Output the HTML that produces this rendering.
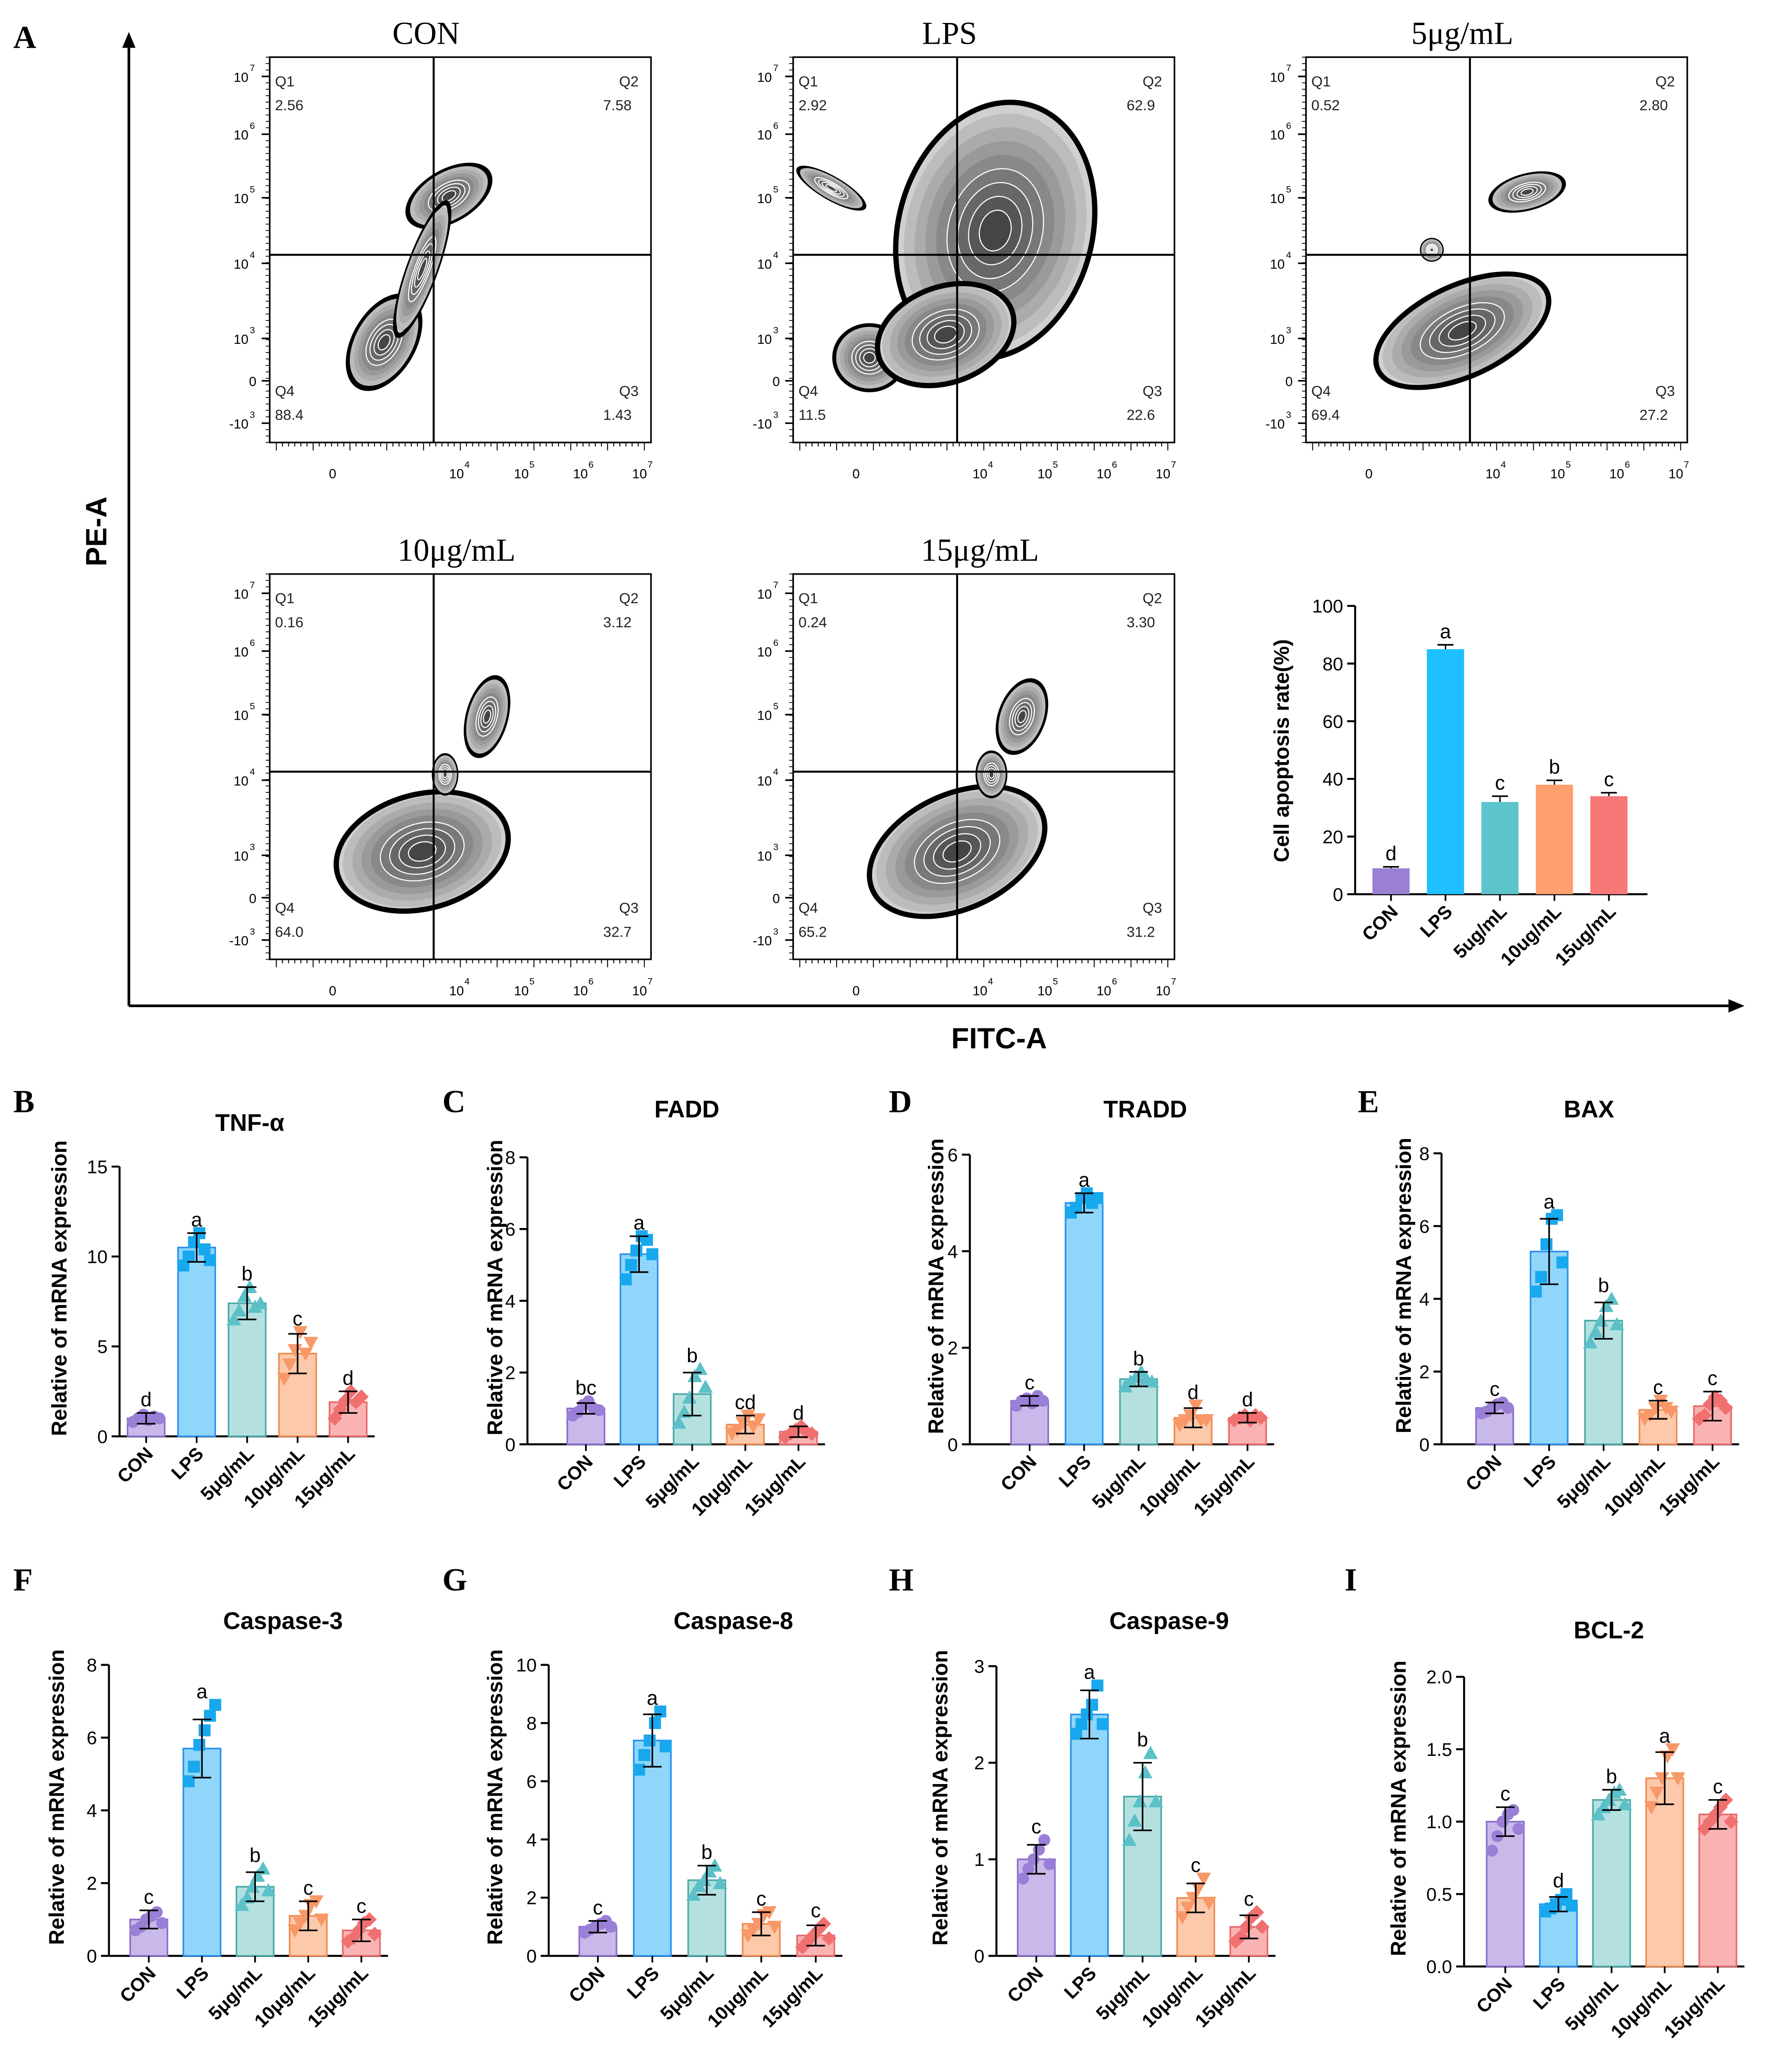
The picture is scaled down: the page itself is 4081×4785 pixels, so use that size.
<!DOCTYPE html>
<html><head><meta charset="utf-8"><style>
html,body{margin:0;padding:0;background:#fff}
svg{display:block}
text{font-family:"Liberation Sans",sans-serif}
.serif{font-family:"Liberation Serif",serif}
</style></head><body>
<svg id="fig" xmlns="http://www.w3.org/2000/svg" width="4081" height="4785" viewBox="0 0 1330 1559.4">
<rect width="1330" height="1560" fill="#fff"/>
</svg>
<script>
// ---- flow cytometry data ----
const flowTitles = ["CON","LPS","5μg/mL","10μg/mL","15μg/mL"];
const flowQ1 = ["2.56","2.92","0.52","0.16","0.24"];
const flowQ2 = ["7.58","62.9","2.80","3.12","3.30"];
const flowQ3 = ["1.43","22.6","27.2","32.7","31.2"];
const flowQ4 = ["88.4","11.5","69.4","64.0","65.2"];
// ---- apoptosis inset ----
const apopCats = ["CON","LPS","5ug/mL","10ug/mL","15ug/mL"];
const apopValues = [9, 85, 32, 38, 34];
const apopErr = [0.5, 1.5, 2, 1.5, 1.2];
const apopLetters = ["d","a","c","b","c"];
const apopTicks = [0,20,40,60,80,100];
// ---- qPCR panels ----
const cats = ["CON","LPS","5μg/mL","10μg/mL","15μg/mL"];
const tnfValues=[1.0,10.5,7.4,4.6,1.9], tnfErr=[0.3,0.8,0.9,1.1,0.6], tnfLetters=["d","a","b","c","d"];
const tnfDots=[[0.8,1.0,1.2,0.9,1.1,1.0],[9.5,10.0,10.8,11.3,10.4,9.8],[6.5,7.0,7.8,8.3,7.2,7.4],[3.2,4.0,4.8,5.8,4.6,5.2],[1.0,1.5,2.0,2.5,1.9,2.2]];
const tnfTicks=[0,5,10,15];
const faddValues=[1.0,5.3,1.4,0.55,0.35], faddErr=[0.15,0.5,0.6,0.25,0.15], faddLetters=["bc","a","b","cd","d"];
const faddDots=[[0.8,0.9,1.1,1.2,1.0,0.95],[4.6,5.0,5.4,5.8,5.7,5.3],[0.6,0.9,1.3,1.9,2.1,1.6],[0.3,0.4,0.6,0.8,0.5,0.7],[0.2,0.3,0.4,0.5,0.35,0.3]];
const faddTicks=[0,2,4,6,8];
const tradValues=[0.9,5.0,1.35,0.55,0.55], tradErr=[0.1,0.2,0.15,0.2,0.1], tradLetters=["c","a","b","d","d"];
const tradDots=[[0.8,0.9,0.95,0.85,1.0,0.9],[4.8,4.9,5.1,5.2,5.0,5.1],[1.2,1.3,1.4,1.5,1.35,1.3],[0.4,0.5,0.6,0.8,0.5,0.5],[0.5,0.55,0.6,0.5,0.6,0.55]];
const tradTicks=[0,2,4,6];
const baxValues=[1.0,5.3,3.4,0.95,1.05], baxErr=[0.15,0.9,0.5,0.25,0.4], baxLetters=["c","a","b","c","c"];
const baxDots=[[0.85,0.9,1.0,1.1,1.15,1.0],[4.2,4.6,5.5,6.2,6.3,5.0],[2.8,3.1,3.4,3.8,4.0,3.3],[0.7,0.8,1.0,1.2,1.0,0.9],[0.7,0.8,1.1,1.3,1.2,1.0]];
const baxTicks=[0,2,4,6,8];
const c3Values=[1.0,5.7,1.9,1.1,0.7], c3Err=[0.25,0.8,0.4,0.4,0.3], c3Letters=["c","a","b","c","c"];
const c3Dots=[[0.7,0.8,1.0,1.1,1.2,0.9],[4.8,5.2,5.8,6.2,6.6,6.9],[1.4,1.6,1.9,2.2,2.4,1.8],[0.7,0.9,1.1,1.4,1.5,1.0],[0.4,0.5,0.7,0.9,1.0,0.6]];
const c3Ticks=[0,2,4,6,8];
const c8Values=[1.0,7.4,2.6,1.1,0.7], c8Err=[0.2,0.9,0.5,0.4,0.35], c8Letters=["c","a","b","c","c"];
const c8Dots=[[0.8,0.9,1.0,1.1,1.2,1.0],[6.4,6.9,7.4,8.0,8.4,7.2],[2.1,2.4,2.6,2.9,3.1,2.5],[0.7,0.9,1.1,1.4,1.5,1.0],[0.3,0.5,0.7,0.9,1.1,0.6]];
const c8Ticks=[0,2,4,6,8,10];
const c9Values=[1.0,2.5,1.65,0.6,0.3], c9Err=[0.15,0.25,0.35,0.15,0.12], c9Letters=["c","a","b","c","c"];
const c9Dots=[[0.8,0.9,1.0,1.1,1.2,0.95],[2.3,2.4,2.5,2.6,2.8,2.4],[1.2,1.4,1.6,1.9,2.1,1.6],[0.4,0.5,0.6,0.7,0.8,0.55],[0.15,0.2,0.3,0.4,0.45,0.3]];
const c9Ticks=[0,1,2,3];
const bclValues=[1.0,0.43,1.15,1.3,1.05], bclErr=[0.1,0.05,0.07,0.18,0.1], bclLetters=["c","d","b","a","c"];
const bclDots=[[0.8,0.9,1.0,1.05,1.08,0.95],[0.38,0.4,0.43,0.46,0.5,0.42],[1.05,1.1,1.15,1.2,1.22,1.12],[1.1,1.2,1.3,1.45,1.5,1.3],[0.95,1.0,1.05,1.1,1.15,1.0]];
const bclTicks=[0,0.5,1.0,1.5,2.0];

const NS="http://www.w3.org/2000/svg";
const svg=document.getElementById('fig');
function mk(tag,attrs,parent){const e=document.createElementNS(NS,tag);for(const k in attrs)e.setAttribute(k,attrs[k]);(parent||svg).appendChild(e);return e;}
function txt(x,y,s,attrs,parent){const e=mk('text',Object.assign({x:x,y:y},attrs||{}),parent);e.textContent=s;return e;}

// ---- big axes ----
const ax=mk('g',{});


mk('line',{x1:97,y1:757,x2:97,y2:32,stroke:'#000','stroke-width':2},ax);
mk('path',{d:'M92,36 L97,24 L102,36 Z',fill:'#000'},ax);
mk('line',{x1:97,y1:757,x2:1305,y2:757,stroke:'#000','stroke-width':2},ax);
mk('path',{d:'M1301,752 L1313,757 L1301,762 Z',fill:'#000'},ax);
const pea=txt(0,0,'PE-A',{'font-size':22,'font-weight':'bold','text-anchor':'middle',transform:'translate(80,400) rotate(-90)'},ax);


const fit=txt(752,789,'FITC-A',{'font-size':22,'font-weight':'bold','text-anchor':'middle'},ax);



// panel letters
const letters=[['A',10,36],['B',10,837],['C',333,837],['D',669,837],['E',1022,837],['F',10,1197],['G',333,1197],['H',669,1197],['I',1012,1197]];
letters.forEach(l=>{const t=txt(l[1],l[2],l[0],{'font-size':24,'font-weight':'bold',class:'serif'});

});

// ---- flow plots ----
const flowBoxes=[[203,43],[597,43],[983,43],[203,432],[597,432]];
const BW=287,BH=290;
const blobs=[
 [[0.3,0.74,40,24,-60],[0.47,0.36,36,20,-30],[0.4,0.55,12,55,20]],
 [[0.53,0.45,75,100,15],[0.2,0.78,28,26,0],[0.1,0.34,30,9,30],[0.4,0.72,55,38,-20]],
 [[0.41,0.71,72,36,-25],[0.58,0.35,30,14,-15],[0.33,0.5,9,9,0]],
 [[0.4,0.72,68,45,-15],[0.57,0.37,16,32,15],[0.46,0.52,10,16,0]],
 [[0.43,0.72,72,45,-25],[0.6,0.37,18,30,20],[0.52,0.52,12,18,0]]];
const yTickLbl=[['10','7',0.05],['10','6',0.2],['10','5',0.365],['10','4',0.535],['10','3',0.73],['0','',0.84],['-10','3',0.95]];
const xTickLbl=[['0','',0.165],['10','4',0.49],['10','5',0.66],['10','6',0.815],['10','7',0.97]];
flowBoxes.forEach((b,i)=>{
 const g=mk('g',{});
 
 
 const [x0,y0]=b;
 const cp=mk('clipPath',{id:'cp'+i},g);mk('rect',{x:x0,y:y0,width:BW,height:BH},cp);
 const bg=mk('g',{'clip-path':'url(#cp'+i+')'},g);
 blobs[i].forEach(bl=>{
  const cx=x0+bl[0]*BW,cy=y0+bl[1]*BH;
  const N=9;
  for(let k=0;k<N;k++){
   const s=k==0?1:(1-(k)/N*0.95);
   const gray=k==0?0:Math.round(205-k*17);
   mk('ellipse',{cx:cx,cy:cy,rx:bl[2]*s,ry:bl[3]*s,transform:`rotate(${bl[4]} ${cx} ${cy})`,fill:`rgb(${gray},${gray},${gray})`,stroke:k>=N-4?'#fff':'none','stroke-width':0.8},bg);
   if(k==0){mk('ellipse',{cx:cx,cy:cy,rx:bl[2]-4,ry:bl[3]-4,transform:`rotate(${bl[4]} ${cx} ${cy})`,fill:'#d0d0d0'},bg);}
  }
 });
 mk('rect',{x:x0,y:y0,width:BW,height:BH,fill:'none',stroke:'#000','stroke-width':1.2},g);
 mk('line',{x1:x0+0.43*BW,y1:y0,x2:x0+0.43*BW,y2:y0+BH,stroke:'#000','stroke-width':1.5},g);
 mk('line',{x1:x0,y1:y0+0.513*BH,x2:x0+BW,y2:y0+0.513*BH,stroke:'#000','stroke-width':1.5},g);
 const fs={'font-size':11,fill:'#222'};
 txt(x0+4,y0+22,'Q1',fs,g);txt(x0+4,y0+40,flowQ1[i],fs,g);
 txt(x0+BW-24,y0+22,'Q2',fs,g);txt(x0+BW-24-(flowQ2[i].length*6-12),y0+40,flowQ2[i],fs,g);
 txt(x0+4,y0+BH-35,'Q4',fs,g);txt(x0+4,y0+BH-17,flowQ4[i],fs,g);
 txt(x0+BW-24,y0+BH-35,'Q3',fs,g);txt(x0+BW-24-(flowQ3[i].length*6-12),y0+BH-17,flowQ3[i],fs,g);
 // ticks
 yTickLbl.forEach(t=>{const y=y0+t[2]*BH;mk('line',{x1:x0-6,y1:y,x2:x0,y2:y,stroke:'#000','stroke-width':1.2},g);
  const tt=txt(x0-10,y+4,t[0],{'font-size':10,'text-anchor':'end'},g);
  if(t[1]){tt.setAttribute('x',x0-16);txt(x0-15,y-4,t[1],{'font-size':7},g);}});
 for(let k=0;k<=60;k++){mk('line',{x1:x0,y1:y0+k*BH/60,x2:x0-3,y2:y0+k*BH/60,stroke:'#000','stroke-width':0.6},g);}
 for(let k=0;k<=60;k++){const x=x0+5+k*(BW-10)/60;mk('line',{x1:x,y1:y0+BH,x2:x,y2:y0+BH+(k%6==0?6:3),stroke:'#000','stroke-width':0.7},g);}
 xTickLbl.forEach(t=>{const x=x0+t[2]*BW;txt(x,y0+BH+27,t[0],{'font-size':10,'text-anchor':'middle'},g);if(t[1])txt(x+6,y0+BH+19,t[1],{'font-size':7},g);});
 const title=txt(x0+(i==3||i==4?0.49:0.41)*BW,y0-10,flowTitles[i],{'font-size':24,class:'serif','text-anchor':'middle'},g);
 
 
});

// ---- apoptosis inset ----
(function(){
 const g=mk('g',{});
 
 
 const axX=1020,y0=673,yT=456,max=100;
 const sy=v=>y0-(v/max)*(y0-yT);
 const cols=['#9b7fd4','#1ec0ff','#5cc5cc','#ff9f6e','#f87878'];
 mk('line',{x1:axX,y1:yT,x2:axX,y2:y0,stroke:'#000','stroke-width':1.5},g);
 mk('line',{x1:axX,y1:y0,x2:1240,y2:y0,stroke:'#000','stroke-width':1.5},g);
 apopTicks.forEach(t=>{mk('line',{x1:axX-6,y1:sy(t),x2:axX,y2:sy(t),stroke:'#000','stroke-width':1.5},g);txt(axX-9,sy(t)+5,String(t),{'font-size':14,'text-anchor':'end'},g);});
 apopValues.forEach((v,i)=>{const cx=1047+i*41;
  const r=mk('rect',{x:cx-14,y:sy(v),width:28,height:y0-sy(v),fill:cols[i]},g);
  
  
  const ey=sy(v+apopErr[i]);mk('line',{x1:cx,y1:sy(v),x2:cx,y2:ey,stroke:'#000'},g);mk('line',{x1:cx-6,y1:ey,x2:cx+6,y2:ey,stroke:'#000','stroke-width':1.2},g);
  txt(cx,ey-5,apopLetters[i],{'font-size':15,'text-anchor':'middle'},g);
  mk('line',{x1:cx,y1:y0,x2:cx,y2:y0+5,stroke:'#000','stroke-width':1.3},g);
  txt(0,0,apopCats[i],{'font-size':14,'font-weight':'bold','text-anchor':'end',transform:`translate(${cx+6},${y0+14}) rotate(-45)`},g);});
 txt(0,0,'Cell apoptosis rate(%)',{'font-size':16,'font-weight':'bold','text-anchor':'middle',transform:`translate(970,565) rotate(-90)`},g);
})();

// ---- qPCR panels ----
const fills=['#c9b9ea','#8fd6fa','#b4e1e0','#fcc9aa','#f9b3b3'];
const strokes=['#8a6ccc','#2a8ff0','#4aa8a8','#f08a50','#e86868'];
const dotCols=['#9a7fd6','#17a8ee','#5cc0c8','#f89868','#f07070'];
function marker(g,shape,x,y,c){const r=4.5;
 if(shape==0)mk('circle',{cx:x,cy:y,r:r,fill:c},g);
 else if(shape==1)mk('rect',{x:x-r,y:y-r,width:2*r,height:2*r,fill:c},g);
 else if(shape==2)mk('path',{d:`M${x},${y-r-1} L${x+r+1},${y+r} L${x-r-1},${y+r} Z`,fill:c},g);
 else if(shape==3)mk('path',{d:`M${x},${y+r+1} L${x+r+1},${y-r} L${x-r-1},${y-r} Z`,fill:c},g);
 else mk('path',{d:`M${x},${y-r-1} L${x+r+1},${y} L${x},${y+r+1} L${x-r-1},${y} Z`,fill:c},g);}
function panel(name,title,axX,y0,yT,ticks,fx,step,vals,errs,lets,dots,titleX,titleY,ytX,dec){
 const g=mk('g',{});
 
 
 const max=ticks[ticks.length-1];
 const sy=v=>y0-(v/max)*(y0-yT);
 const endX=fx+4*step+20;
 mk('line',{x1:axX,y1:yT,x2:axX,y2:y0,stroke:'#000','stroke-width':1.5},g);
 mk('line',{x1:axX,y1:y0,x2:endX,y2:y0,stroke:'#000','stroke-width':1.5},g);
 ticks.forEach(t=>{mk('line',{x1:axX-6,y1:sy(t),x2:axX,y2:sy(t),stroke:'#000','stroke-width':1.5},g);txt(axX-9,sy(t)+5,dec?t.toFixed(1):String(t),{'font-size':14,'text-anchor':'end'},g);});
 vals.forEach((v,i)=>{const cx=fx+i*step;
  const r=mk('rect',{x:cx-14,y:sy(v),width:28,height:y0-sy(v),fill:fills[i],stroke:strokes[i],'stroke-width':1.2},g);
  
  
  dots[i].forEach((d,j)=>marker(g,i,cx-10+j*4,sy(d),dotCols[i]));
  const e1=sy(v+errs[i]),e2=sy(Math.max(0,v-errs[i]));
  mk('line',{x1:cx,y1:e1,x2:cx,y2:e2,stroke:'#000','stroke-width':1.2},g);
  mk('line',{x1:cx-7,y1:e1,x2:cx+7,y2:e1,stroke:'#000','stroke-width':1.2},g);
  mk('line',{x1:cx-7,y1:e2,x2:cx+7,y2:e2,stroke:'#000','stroke-width':1.2},g);
  const top=Math.min(e1,sy(Math.max(...dots[i])));
  txt(cx,top-5,lets[i],{'font-size':15,'text-anchor':'middle'},g);
  mk('line',{x1:cx,y1:y0,x2:cx,y2:y0+5,stroke:'#000','stroke-width':1.3},g);
  txt(0,0,cats[i],{'font-size':14,'font-weight':'bold','text-anchor':'end',transform:`translate(${cx+6},${y0+14}) rotate(-45)`},g);});
 txt(titleX,titleY,title,{'font-size':18,'font-weight':'bold','text-anchor':'middle'},g);
 txt(0,0,'Relative of mRNA expression',{'font-size':16,'font-weight':'bold','text-anchor':'middle',transform:`translate(${ytX},${(y0+yT)/2-10}) rotate(-90)`},g);
}
panel('tnf','TNF-α',90,1081,878,tnfTicks,110,38,tnfValues,tnfErr,tnfLetters,tnfDots,188,851,50,false);
panel('fadd','FADD',397,1087,871,faddTicks,441,40,faddValues,faddErr,faddLetters,faddDots,517,841,378,false);
panel('tradd','TRADD',730,1087,869,tradTicks,775,41,tradValues,tradErr,tradLetters,tradDots,862,841,710,false);
panel('bax','BAX',1085,1087,868,baxTicks,1125,41,baxValues,baxErr,baxLetters,baxDots,1196,841,1062,false);
panel('caspase3','Caspase-3',82,1472,1253,c3Ticks,112,40,c3Values,c3Err,c3Letters,c3Dots,213,1226,48,false);
panel('caspase8','Caspase-8',413,1472,1253,c8Ticks,450,41,c8Values,c8Err,c8Letters,c8Dots,552,1226,378,false);
panel('caspase9','Caspase-9',750,1472,1254,c9Ticks,780,40,c9Values,c9Err,c9Letters,c9Dots,880,1226,713,false);
panel('bcl2','BCL-2',1102,1480,1262,bclTicks,1133,40,bclValues,bclErr,bclLetters,bclDots,1211,1233,1058,true);
</script>
</body></html>
